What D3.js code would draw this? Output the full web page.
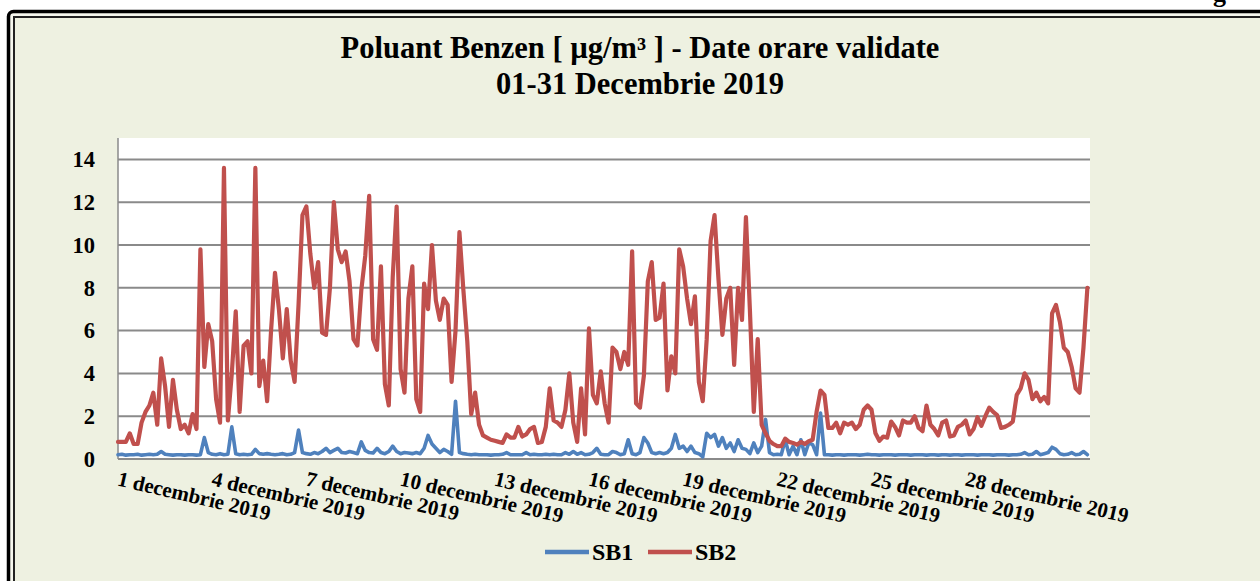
<!DOCTYPE html>
<html><head><meta charset="utf-8">
<script src="https://cdn.jsdelivr.net/npm/d3@7"></script>
<style>html,body{margin:0;padding:0;background:#fff;} svg{display:block;}</style>
</head><body>
<svg id="c" width="1260" height="581"></svg>
<script>
// ---- data ----
const title1 = "Poluant Benzen [ µg/m³ ] - Date orare validate";
const title2 = "01-31 Decembrie 2019";
const seriesNames = ["SB1", "SB2"];
const seriesColors = ["#4F81BD", "#C0504D"];
const STEP_HOURS = 3;          // values read every 3 hours
const TOTAL_HOURS = 744;       // 31 days x 24 h
const yTicks = [0, 2, 4, 6, 8, 10, 12, 14];
const tickDays = [1, 4, 7, 10, 13, 16, 19, 22, 25, 28];
const tickLabels = ["1 decembrie 2019", "4 decembrie 2019", "7 decembrie 2019", "10 decembrie 2019",
  "13 decembrie 2019", "16 decembrie 2019", "19 decembrie 2019", "22 decembrie 2019",
  "25 decembrie 2019", "28 decembrie 2019"];

const sb1 = [
  0.2, 0.22, 0.18, 0.2, 0.2, 0.22, 0.18, 0.2, 0.22, 0.2,
  0.22, 0.35, 0.22, 0.2, 0.18, 0.2, 0.2, 0.18, 0.2, 0.2,
  0.18, 0.2, 1.0, 0.3, 0.22, 0.2, 0.25, 0.2, 0.22, 1.5,
  0.25, 0.2, 0.22, 0.2, 0.22, 0.45, 0.25, 0.22, 0.25, 0.22,
  0.2, 0.22, 0.25, 0.2, 0.22, 0.3, 1.35, 0.3, 0.25, 0.22,
  0.3, 0.25, 0.35, 0.5, 0.3, 0.4, 0.5, 0.3, 0.28, 0.35,
  0.3, 0.25, 0.8, 0.4, 0.3, 0.28, 0.5, 0.3, 0.25, 0.35,
  0.6, 0.35, 0.25, 0.3, 0.28, 0.25, 0.3, 0.25, 0.5, 1.1,
  0.7, 0.5, 0.3, 0.45, 0.35, 0.22, 2.7, 0.3, 0.25, 0.22,
  0.2, 0.22, 0.2, 0.2, 0.2, 0.18, 0.2, 0.2, 0.22, 0.3,
  0.2, 0.2, 0.2, 0.2, 0.3, 0.2, 0.22, 0.2, 0.2, 0.22,
  0.2, 0.22, 0.2, 0.2, 0.3, 0.22, 0.35, 0.22, 0.3, 0.2,
  0.22, 0.3, 0.5, 0.22, 0.2, 0.2, 0.35, 0.3, 0.2, 0.25,
  0.9, 0.25, 0.2, 0.3, 1.0, 0.75, 0.3, 0.25, 0.3, 0.25,
  0.3, 0.5, 1.15, 0.5, 0.6, 0.35, 0.6, 0.3, 0.25, 0.1,
  1.2, 1.0, 1.15, 0.6, 1.0, 0.5, 0.75, 0.35, 0.9, 0.5,
  0.45, 0.25, 0.75, 0.3, 0.6, 1.85, 0.3, 0.2, 0.22, 0.2,
  0.9, 0.2, 0.6, 0.2, 0.9, 0.2, 0.75, 0.67, 0.2, 2.15,
  0.2, 0.2, 0.18, 0.2, 0.2, 0.18, 0.2, 0.2, 0.2, 0.18,
  0.2, 0.22, 0.2, 0.2, 0.18, 0.2, 0.2, 0.2, 0.18, 0.2,
  0.2, 0.2, 0.18, 0.2, 0.2, 0.2, 0.18, 0.2, 0.2, 0.18,
  0.2, 0.2, 0.18, 0.2, 0.2, 0.18, 0.2, 0.2, 0.2, 0.18,
  0.2, 0.2, 0.2, 0.18, 0.2, 0.2, 0.2, 0.18, 0.2, 0.2,
  0.22, 0.3, 0.2, 0.22, 0.35, 0.2, 0.25, 0.3, 0.55, 0.45,
  0.25, 0.2, 0.22, 0.3, 0.2, 0.22, 0.35, 0.2
];

const sb2 = [
  0.8, 0.8, 0.8, 1.2, 0.7, 0.7, 1.7, 2.2, 2.5, 3.1,
  1.6, 4.7, 3.4, 1.5, 3.7, 2.3, 1.4, 1.6, 1.2, 2.1,
  1.4, 9.8, 4.3, 6.3, 5.5, 2.8, 1.7, 13.6, 1.8, 4.0,
  6.9, 2.2, 5.3, 5.5, 4.0, 13.6, 3.4, 4.6, 2.7, 6.0,
  8.7, 7.0, 4.7, 7.0, 4.6, 3.6, 7.2, 11.4, 11.8, 9.6,
  8.0, 9.2, 5.9, 5.8, 8.0, 12.0, 9.8, 9.2, 9.7, 8.3,
  5.6, 5.3, 7.9, 9.5, 12.3, 5.6, 5.1, 9.0, 3.5, 2.5,
  8.5, 11.8, 4.2, 3.1, 7.5, 9.0, 2.8, 2.2, 8.2, 7.0,
  10.0, 7.4, 6.5, 7.5, 7.2, 3.6, 6.0, 10.6, 7.9, 5.5,
  2.1, 3.1, 1.6, 1.1, 1.0, 0.9, 0.85, 0.8, 0.75, 1.15,
  1.0, 1.0, 1.5, 1.05, 1.15, 1.4, 1.5, 0.75, 0.8, 1.5,
  3.3, 1.8, 1.7, 1.5, 2.3, 4.0, 1.7, 0.8, 3.3, 1.15,
  6.1, 3.0, 2.6, 4.1, 2.6, 1.7, 5.2, 5.0, 4.2, 5.0,
  4.4, 9.7, 2.6, 2.4, 3.9, 8.3, 9.2, 6.5, 6.6, 8.2,
  3.2, 4.8, 4.0, 9.8, 9.0, 7.5, 6.3, 7.6, 3.6, 2.7,
  5.6, 10.2, 11.4, 8.4, 5.8, 7.5, 8.0, 4.4, 8.0, 6.5,
  11.3, 7.0, 2.2, 5.6, 1.6, 1.2, 0.85, 0.7, 0.6, 0.6,
  0.95, 0.8, 0.75, 0.67, 0.8, 0.7, 0.83, 0.9, 2.2, 3.2,
  3.0, 1.45, 1.45, 1.7, 1.2, 1.7, 1.6, 1.7, 1.4, 1.6,
  2.3, 2.5, 2.3, 1.2, 0.85, 1.05, 1.0, 1.75, 1.5, 1.1,
  1.8, 1.7, 1.7, 2.0, 1.45, 1.3, 2.5, 1.6, 1.4, 1.1,
  1.7, 1.8, 1.05, 1.1, 1.5, 1.6, 1.8, 1.15, 1.4, 1.95,
  1.55, 2.0, 2.4, 2.2, 2.05, 1.45, 1.5, 1.6, 1.75, 3.0,
  3.3, 4.0, 3.7, 2.8, 3.1, 2.7, 2.9, 2.6, 6.8, 7.2,
  6.4, 5.2, 5.0, 4.3, 3.3, 3.1, 5.2, 8.0
];

// ---- layout ----
const W = 1260, H = 581;
const plot = {left: 118, right: 1090, top: 138, bottom: 459};
const serif = "'Liberation Serif', 'Times New Roman', serif";

const svg = d3.select("#c");

// outer page / frame
svg.append("rect").attr("x", 0).attr("y", 0).attr("width", W).attr("height", H).attr("fill", "#ffffff");
svg.append("rect").attr("x", 8.5).attr("y", 11.5).attr("width", 1400).attr("height", 800).attr("rx", 5)
  .attr("fill", "#F6F7EE").attr("stroke", "#000").attr("stroke-width", 3.5);
svg.append("rect").attr("x", 14).attr("y", 17).attr("width", 1400).attr("height", 800)
  .attr("fill", "#EEF1E1").attr("stroke", "#222").attr("stroke-width", 2);

// clipped glyph at top-right (page text above the frame, cut off as in the source)
svg.append("text").attr("x", 1213).attr("y", 2).attr("font-family", serif).attr("font-weight", "bold")
  .attr("font-size", 26).attr("fill", "#000").text("g");

// titles
svg.append("text").attr("x", 640).attr("y", 58).attr("text-anchor", "middle")
  .attr("font-family", serif).attr("font-weight", "bold").attr("font-size", 30.5).attr("fill", "#000").text(title1);
svg.append("text").attr("x", 640).attr("y", 94).attr("text-anchor", "middle")
  .attr("font-family", serif).attr("font-weight", "bold").attr("font-size", 30.5).attr("fill", "#000").text(title2);

// scales
const x = d3.scaleLinear().domain([0, TOTAL_HOURS - 1]).range([plot.left, plot.right]);
const y = d3.scaleLinear().domain([0, 15]).range([plot.bottom, plot.top]);

// plot area
svg.append("rect").attr("x", plot.left).attr("y", plot.top)
  .attr("width", plot.right - plot.left).attr("height", plot.bottom - plot.top).attr("fill", "#fff");

// gridlines
svg.append("g").selectAll("line").data(yTicks.filter(t => t > 0)).join("line")
  .attr("x1", plot.left).attr("x2", plot.right)
  .attr("y1", d => y(d)).attr("y2", d => y(d))
  .attr("stroke", "#8a8a8a").attr("stroke-width", 2);

// axes lines
svg.append("line").attr("x1", plot.left).attr("x2", plot.left).attr("y1", plot.top).attr("y2", plot.bottom)
  .attr("stroke", "#8a8a8a").attr("stroke-width", 1.5);
svg.append("line").attr("x1", plot.left).attr("x2", plot.right).attr("y1", plot.bottom).attr("y2", plot.bottom)
  .attr("stroke", "#8a8a8a").attr("stroke-width", 2);

// y tick labels
svg.append("g").selectAll("text").data(yTicks).join("text")
  .attr("x", 95).attr("y", d => y(d)).attr("dy", "0.35em").attr("text-anchor", "end")
  .attr("font-family", serif).attr("font-weight", "bold").attr("font-size", 22.5).attr("fill", "#000")
  .text(d => d);

// x tick labels (rotated)
svg.append("g").selectAll("text").data(tickDays).join("text")
  .attr("transform", (d, i) => `translate(${x((d - 1) * 24) + 2},${plot.bottom + 11}) rotate(13)`)
  .attr("dy", "0.75em")
  .attr("font-family", serif).attr("font-weight", "bold").attr("font-size", 21).attr("fill", "#000")
  .text((d, i) => tickLabels[i]);

// lines
const line = d3.line().x((d, i) => x(i * STEP_HOURS)).y(d => y(d));
[sb1, sb2].forEach((s, si) => {
  svg.append("path").datum(s).attr("d", line).attr("fill", "none")
    .attr("stroke", seriesColors[si]).attr("stroke-width", si === 1 ? 4.2 : 3.6)
    .attr("stroke-linejoin", "round").attr("stroke-linecap", "round");
});

// legend
const legend = [{name: seriesNames[0], color: seriesColors[0], x0: 545},
                {name: seriesNames[1], color: seriesColors[1], x0: 648}];
const lg = svg.append("g").selectAll("g").data(legend).join("g");
lg.append("line").attr("x1", d => d.x0).attr("x2", d => d.x0 + 44).attr("y1", 552).attr("y2", 552)
  .attr("stroke", d => d.color).attr("stroke-width", 4.5);
lg.append("text").attr("x", d => d.x0 + 47).attr("y", 552).attr("dy", "0.35em")
  .attr("font-family", serif).attr("font-weight", "bold").attr("font-size", 24).attr("fill", "#000")
  .text(d => d.name);
</script>
</body></html>
